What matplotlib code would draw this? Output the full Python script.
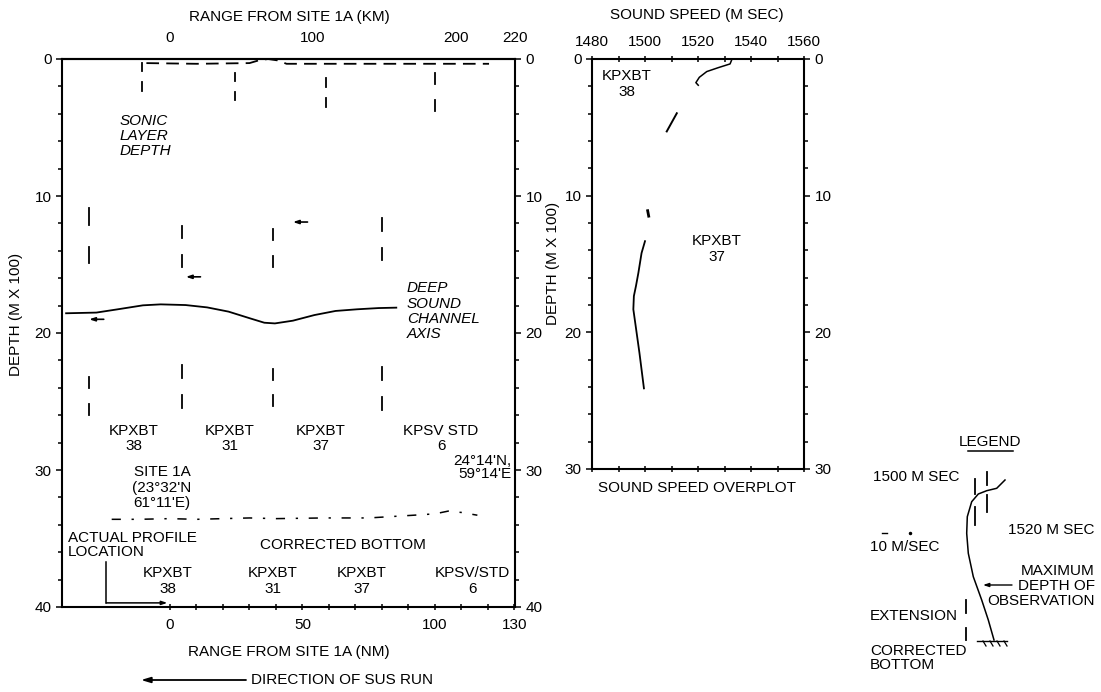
import matplotlib
matplotlib.use("Agg")
import matplotlib.pyplot as plt
from matplotlib.ticker import MultipleLocator, FixedLocator

plt.rcParams['font.family'] = ['Liberation Sans', 'DejaVu Sans']
plt.rcParams['font.size'] = 11

W, H = 1101, 692

def fx(px):
    return px / W

def fy(py):
    return 1 - py / H

# ---------------- data ----------------
nm_ticks = [0, 50, 100, 130]
km_ticks = [0, 100, 200, 240.8]
km_labels = ['0', '100', '200', '220']
depth_ticks = [0, 10, 20, 30, 40]
speed_ticks = [1480, 1500, 1520, 1540, 1560]

# station profiles: x of the 1500 m/sec line (NM), 1520 line is 20 NM to the right
station_nm = [-30.6, 4.5, 39.0, 80.0]
ref_offset = 20
dash_1520_top = [0.3, 1.0, 1.4, 1.0]
dash_1520_bot = [2.3, 3.0, 3.5, 3.8]
dash_1500_top = [10.9, 12.2, 12.4, 11.6]
dash_1500_bot = [14.9, 15.2, 15.2, 14.7]
ext_top = [23.2, 22.3, 22.6, 22.5]
ext_bot = [26.0, 25.5, 25.3, 25.6]

station_labels = ['KPXBT\n38', 'KPXBT\n31', 'KPXBT\n37', 'KPSV STD\n6']
station_label_nm = [-13.6, 22.6, 57.0, 102.3]
bottom_labels = ['KPXBT\n38', 'KPXBT\n31', 'KPXBT\n37', 'KPSV/STD\n6']
bottom_label_nm = [-0.75, 38.9, 72.5, 114.3]

# maximum depth of observation arrows
obs_nm = [-30.5, 6.0, 46.4]
obs_depth = [19.0, 15.9, 11.9]
obs_len = 5.5

# deep sound channel axis
dsc_nm = [-39.2, -27.8, -19.7, -10.2, -3.5, 5.9, 14.0, 22.1, 30.2, 35.6, 39.6,
          46.4, 54.5, 62.5, 70.6, 78.7, 85.4]
dsc_depth = [18.56, 18.51, 18.27, 17.98, 17.91, 17.96, 18.13, 18.44, 18.93,
             19.25, 19.3, 19.1, 18.69, 18.39, 18.27, 18.18, 18.15]

# sonic layer depth
sld_nm = [-8.9, 10, 30, 33.5, 37, 40.5, 44, 80, 120.4]
sld_depth = [0.3, 0.35, 0.3, 0.1, 0.0, 0.1, 0.35, 0.35, 0.35]

# corrected bottom
cb_nm = [-22, -12, 0, 10, 30, 40, 58, 65, 75, 92, 100, 105, 110, 116]
cb_depth = [33.6, 33.6, 33.55, 33.6, 33.5, 33.55, 33.5, 33.5, 33.5, 33.3,
            33.2, 33.0, 33.1, 33.3]

# actual profile location pointer
apl_nm = [-24, -24, -1.0]
apl_depth = [36.7, 39.7, 39.7]

# sound speed overplot
kp38a_speed = [1532.7, 1532.1, 1527.7, 1523.3, 1520.5, 1519.2, 1520.1]
kp38a_depth = [0.07, 0.36, 0.63, 0.92, 1.34, 1.73, 1.92]
kp38b_speed = [1512.0, 1508.2]
kp38b_depth = [3.97, 5.3]
kp37a_speed = [1501.0, 1501.4]
kp37a_depth = [11.1, 11.5]
kp37b_speed = [1500.0, 1498.7, 1497.5, 1496.6, 1495.8, 1495.6, 1496.6,
               1497.9, 1499.6]
kp37b_depth = [13.33, 14.2, 15.65, 16.6, 17.35, 18.32, 19.7, 21.5, 24.1]

# legend sketch (figure pixels)
leg_curve_x = [1005, 996.7, 986.7, 978.3, 971.7, 967.3, 966.7, 968.3, 973.3,
               981.7, 988.3, 994]
leg_curve_y = [480, 488.3, 490.7, 494, 501.7, 516.7, 533.3, 553.3, 576.7,
               600, 620, 640]
leg_1500_x = 975.3
leg_1500_seg = [(479, 494), (507, 525)]
leg_1520_x = 987.3
leg_1520_seg = [(472, 485), (495, 512)]
leg_ext_x = 966
leg_ext_seg = [(600, 613), (628, 640)]
leg_hatch_x = [983, 990, 997, 1004]

LW = 1.3
ARROW = '-|>,head_length=0.3,head_width=0.1'

fig = plt.figure(figsize=(W / 100, H / 100), dpi=100)

# ---------------- main section ----------------
ax = fig.add_axes([fx(62), fy(607), fx(515) - fx(62), (607 - 59) / H])
ax.set_xlim(-40.75, 130.2)
ax.set_ylim(40, 0)
for s in ax.spines.values():
    s.set_linewidth(1.5)

ax.xaxis.set_major_locator(FixedLocator(nm_ticks))
ax.xaxis.set_minor_locator(FixedLocator(list(range(10, 130, 10))))
ax.yaxis.set_major_locator(FixedLocator(depth_ticks))
ax.yaxis.set_minor_locator(MultipleLocator(2))
ax.tick_params(axis='x', which='both', direction='inout', length=4, width=1.1,
               pad=6, top=False)
ax.tick_params(axis='y', which='major', length=4.5)
ax.tick_params(axis='y', which='minor', length=3)
ax.tick_params(axis='y', which='both', direction='out', width=1.1,
               pad=3, left=True, right=True, labelleft=True, labelright=True)

sec = ax.secondary_xaxis('top', functions=(lambda v: v * 1.852, lambda v: v / 1.852))
sec.set_xticks(km_ticks)
sec.set_xticklabels(km_labels)
sec.tick_params(length=0, pad=10)
sec.spines['top'].set_linewidth(1.5)

# profile reference marks
for i, x0 in enumerate(station_nm):
    for (t, b, xx) in [(dash_1520_top[i], dash_1520_bot[i], x0 + ref_offset),
                       (dash_1500_top[i], dash_1500_bot[i], x0),
                       (ext_top[i], ext_bot[i], x0)]:
        d = (b - t) * 0.3
        ax.plot([xx, xx], [t, t + d], color='black', lw=LW)
        ax.plot([xx, xx], [b - d, b], color='black', lw=LW)

for xn, dn in zip(obs_nm, obs_depth):
    ax.annotate('', xy=(xn, dn), xytext=(xn + obs_len, dn),
                arrowprops=dict(arrowstyle=ARROW, color='black', lw=1.2,
                                shrinkA=0, shrinkB=0))

ax.plot(dsc_nm, dsc_depth, color='black', lw=LW)
ax.plot(sld_nm, sld_depth, color='black', lw=LW, dashes=(7, 4))
ax.plot(cb_nm, cb_depth, color='black', lw=1.1, dashes=(6, 7, 1.5, 7))
ax.plot(apl_nm[:2], apl_depth[:2], color='black', lw=1.1)
ax.annotate('', xy=(apl_nm[2], apl_depth[2]), xytext=(apl_nm[1], apl_depth[1]),
            arrowprops=dict(arrowstyle=ARROW, color='black', lw=1.1,
                            shrinkA=0, shrinkB=0))

for lab, xn in zip(station_labels, station_label_nm):
    ax.text(xn, 27.7, lab, ha='center', va='center', linespacing=1.15)
for lab, xn in zip(bottom_labels, bottom_label_nm):
    ax.text(xn, 38.1, lab, ha='center', va='center', linespacing=1.15)

ax.text(-18.9, 5.6, 'SONIC\nLAYER\nDEPTH', style='italic', ha='left',
        va='center', linespacing=1.1)
ax.text(89.4, 18.4, 'DEEP\nSOUND\nCHANNEL\nAXIS', style='italic', ha='left',
        va='center', linespacing=1.1)
ax.text(-3.0, 31.3, "SITE 1A\n(23\u00b032'N\n61\u00b011'E)", ha='center',
        va='center', linespacing=1.15)
ax.text(128.7, 29.8, "24\u00b014'N,\n59\u00b014'E", ha='right', va='center',
        linespacing=0.95)
ax.text(-38.5, 35.5, 'ACTUAL PROFILE\nLOCATION', ha='left', va='center',
        linespacing=1.0)
ax.text(65.3, 35.5, 'CORRECTED BOTTOM', ha='center', va='center')

# ---------------- sound speed overplot ----------------
ax2 = fig.add_axes([fx(592), fy(469), (804 - 592) / W, (469 - 59) / H])
ax2.set_xlim(1480, 1560)
ax2.set_ylim(30, 0)
for s in ax2.spines.values():
    s.set_linewidth(1.5)
ax2.xaxis.set_major_locator(FixedLocator(speed_ticks))
ax2.xaxis.set_minor_locator(MultipleLocator(10))
ax2.yaxis.set_major_locator(FixedLocator([0, 10, 20, 30]))
ax2.yaxis.set_minor_locator(MultipleLocator(2))
ax2.tick_params(axis='x', which='both', direction='inout', length=4, width=1.1,
                top=True, bottom=True, labeltop=True, labelbottom=False, pad=5)
ax2.tick_params(axis='y', which='major', length=4.5)
ax2.tick_params(axis='y', which='minor', length=3)
ax2.tick_params(axis='y', which='both', direction='out', width=1.1,
                pad=3, left=True, right=True, labelleft=True, labelright=True)

ax2.plot(kp38a_speed, kp38a_depth, color='black', lw=1.1)
ax2.plot(kp38b_speed, kp38b_depth, color='black', lw=1.4)
ax2.plot(kp37a_speed, kp37a_depth, color='black', lw=2)
ax2.plot(kp37b_speed, kp37b_depth, color='black', lw=1.3)
ax2.text(1493.2, 1.83, 'KPXBT\n38', ha='center', va='center', linespacing=1.15)
ax2.text(1527.2, 13.9, 'KPXBT\n37', ha='center', va='center', linespacing=1.15)

# ---------------- overlay: titles and legend ----------------
ov = fig.add_axes([0, 0, 1, 1], facecolor='none')
ov.set_xlim(0, W)
ov.set_ylim(H, 0)
ov.axis('off')

ov.text(289, 17, 'RANGE FROM SITE 1A (KM)', ha='center', va='center')
ov.text(289, 652, 'RANGE FROM SITE 1A (NM)', ha='center', va='center')
ov.text(16, 314, 'DEPTH (M X 100)', rotation=90, ha='center', va='center')
ov.text(553, 263, 'DEPTH (M X 100)', rotation=90, ha='center', va='center')
ov.text(697, 15, 'SOUND SPEED (M SEC)', ha='center', va='center')
ov.text(697, 488, 'SOUND SPEED OVERPLOT', ha='center', va='center')

ov.annotate('', xy=(141, 680), xytext=(246, 680),
            arrowprops=dict(arrowstyle='-|>,head_length=0.5,head_width=0.15',
                            color='black', lw=1.3, shrinkA=0, shrinkB=0))
ov.text(251, 680, 'DIRECTION OF SUS RUN', ha='left', va='center')

# legend
ov.text(990, 442, 'LEGEND', ha='center', va='center')
ov.plot([968, 1013], [451, 451], color='black', lw=1.1)
ov.plot(leg_curve_x, leg_curve_y, color='black', lw=1.1)
for xx, segs in [(leg_1500_x, leg_1500_seg), (leg_1520_x, leg_1520_seg),
                 (leg_ext_x, leg_ext_seg)]:
    for (a, b) in segs:
        ov.plot([xx, xx], [a, b], color='black', lw=1.3)
ov.plot([977, 1007], [641, 641], color='black', lw=1.0)
for hx in leg_hatch_x:
    ov.plot([hx, hx + 3], [641, 646], color='black', lw=0.9)
ov.plot([882, 887], [533, 533], color='black', lw=1.0)
ov.plot([910], [533], marker='.', color='black', ms=3)
ov.annotate('', xy=(983, 585), xytext=(1012, 585),
            arrowprops=dict(arrowstyle=ARROW, color='black', lw=1.0,
                            shrinkA=0, shrinkB=0))

ov.text(873, 477, '1500 M SEC', ha='left', va='center')
ov.text(1008, 530, '1520 M SEC', ha='left', va='center')
ov.text(870, 547, '10 M/SEC', ha='left', va='center')
ov.text(1095, 586, 'MAXIMUM\nDEPTH OF\nOBSERVATION', ha='right', va='center',
        linespacing=1.05)
ov.text(870, 616, 'EXTENSION', ha='left', va='center')
ov.text(870, 658, 'CORRECTED\nBOTTOM', ha='left', va='center', linespacing=1.0)

fig.savefig('out.png', dpi=100)
